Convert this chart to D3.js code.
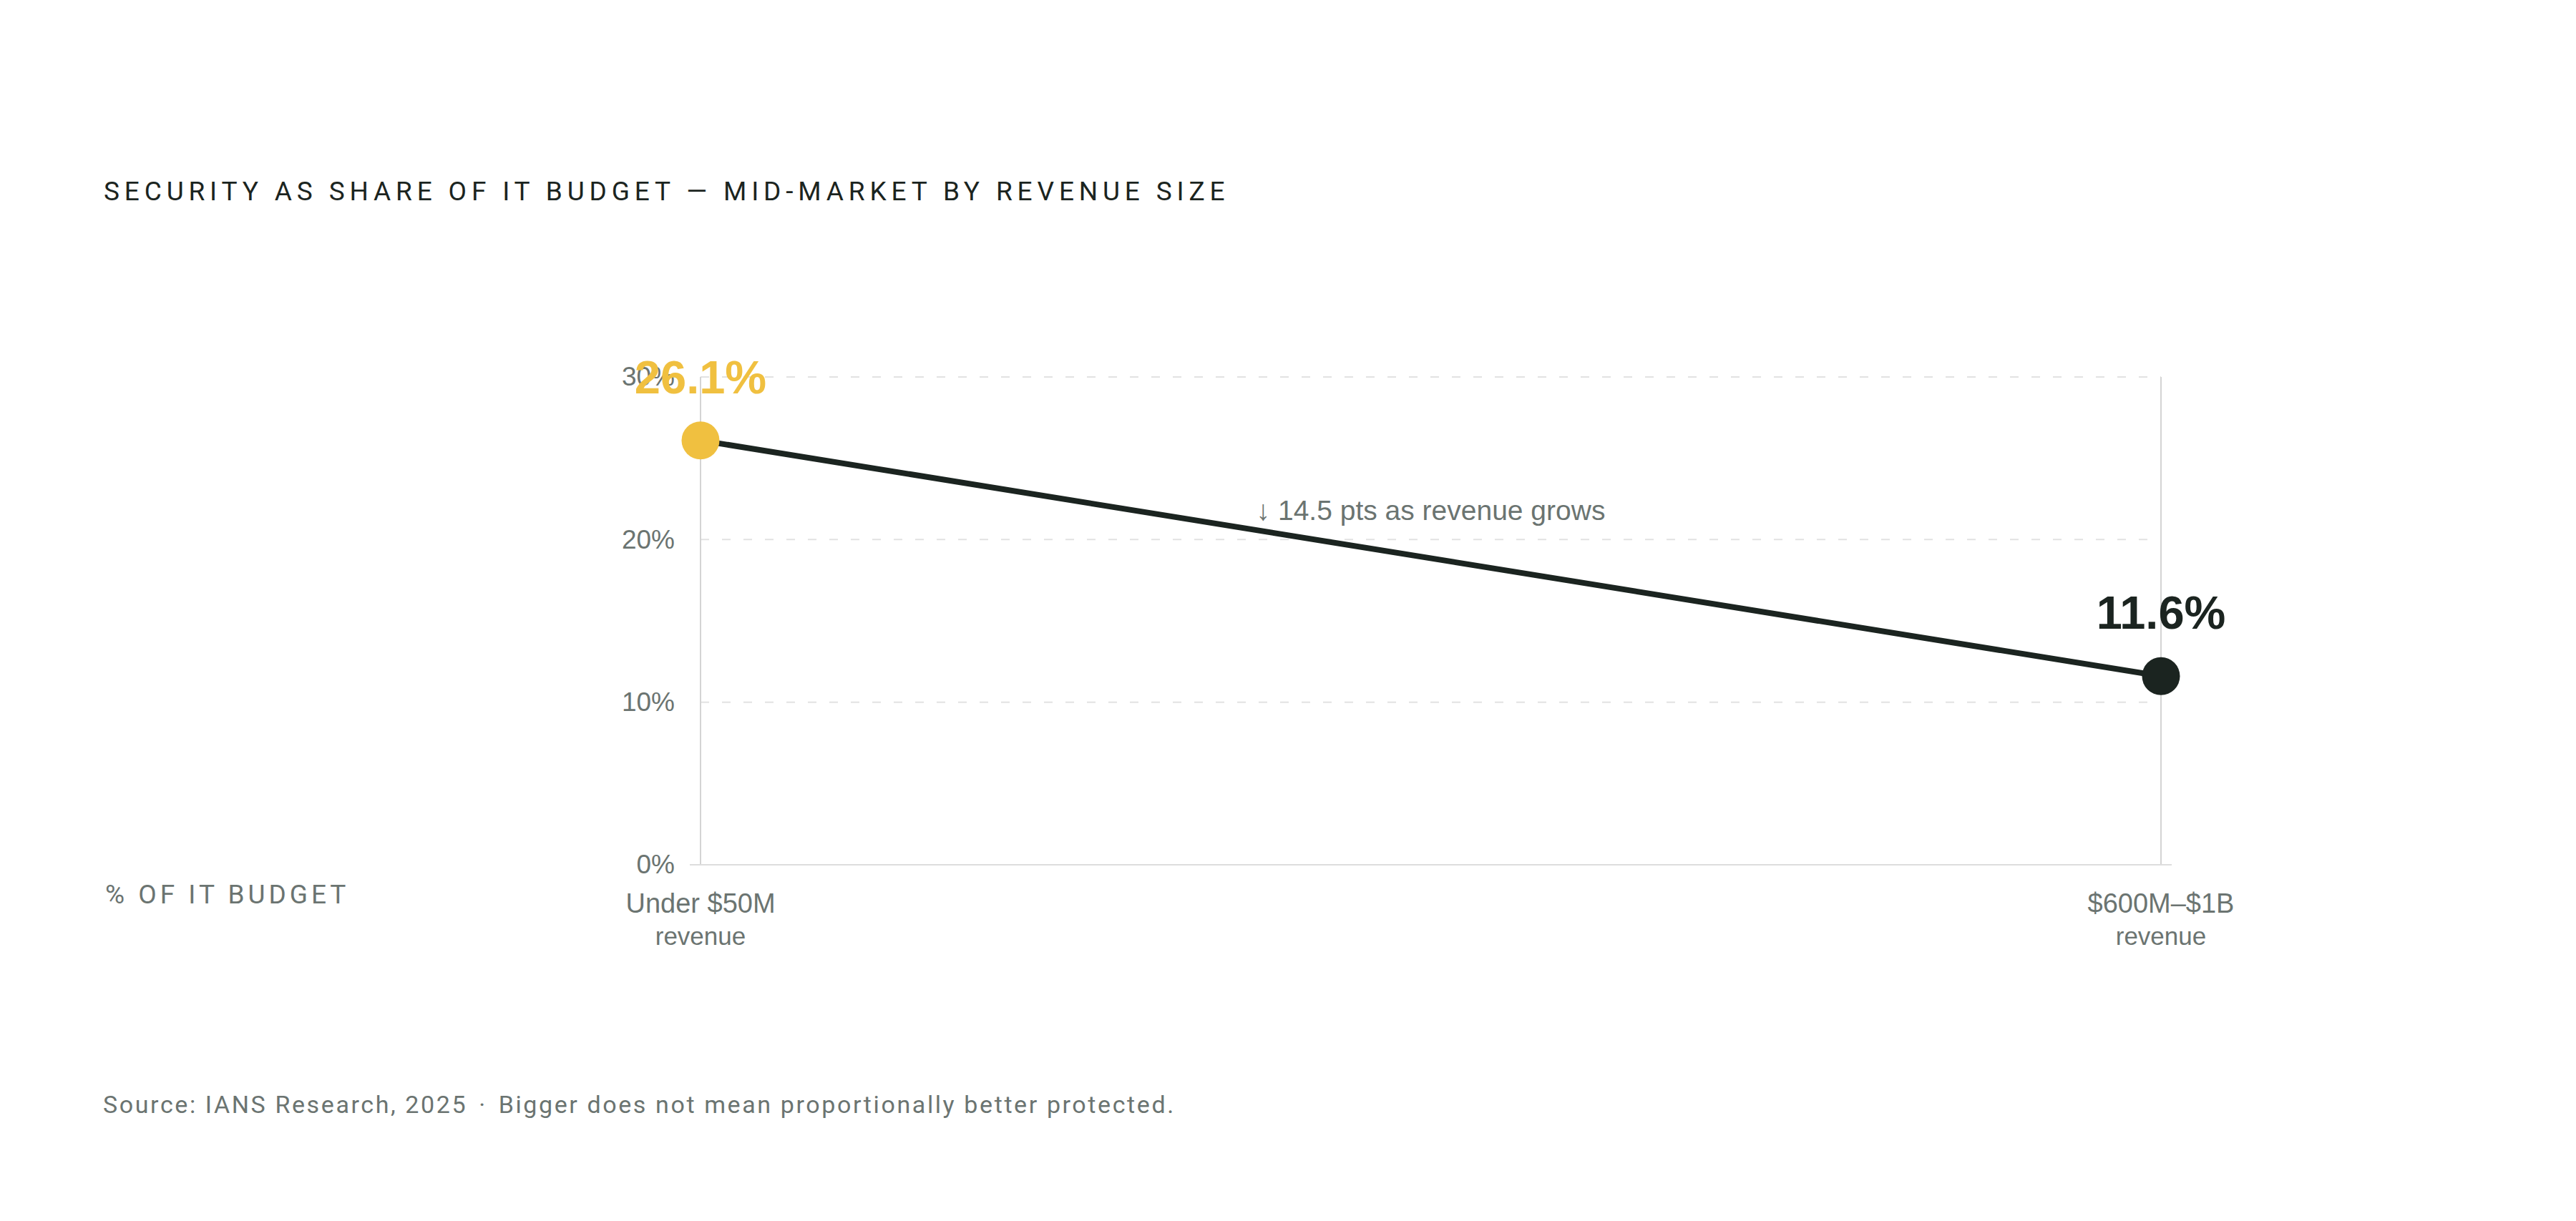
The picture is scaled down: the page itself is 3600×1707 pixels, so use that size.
<!DOCTYPE html>
<html>
<head>
<meta charset="utf-8">
<script src="https://cdn.jsdelivr.net/npm/d3@7"></script>
<style>
    html, body { margin: 0; padding: 0; background: #ffffff; }
    svg { display: block; }
</style>
</head>
<body>
<div id="chart"></div>
<script>
// data
const categories = ["Under $50M", "$600M–$1B"];
const categorySub = ["revenue", "revenue"];
const shares = [26.1, 11.6];
const yTicks = [0, 10, 20, 30];

const titleText = "SECURITY AS SHARE OF IT BUDGET — MID-MARKET BY REVENUE SIZE";
const yLabelText = "% OF IT BUDGET";
const sourceText = "Source: IANS Research, 2025";
const noteText = "Bigger does not mean proportionally better protected.";

const width = 3600;
const height = 1707;

const dark = "#1b2420";
const gold = "#f0c040";
const grey = "#6b7471";

const svg = d3.select("#chart")
    .append("svg")
    .attr("width", width)
    .attr("height", height)

svg.append("rect")
    .attr("width", width)
    .attr("height", height)
    .attr("fill", "#ffffff")

const xScale = d3.scalePoint()
    .domain(categories)
    .range([979, 3020]);

const yScale = d3.scaleLinear()
    .domain([0, 30])
    .range([1209, 527]);

// Title + side label + footer
svg.append("text")
    .text(titleText)
    .attr("x", 145)
    .attr("y", 280)
    .attr("font-family", "Roboto, sans-serif")
    .attr("font-size", 37)
    .attr("letter-spacing", 6.85)
    .attr("fill", dark)

svg.append("text")
    .text(yLabelText)
    .attr("x", 147)
    .attr("y", 1263)
    .attr("font-family", "Roboto, sans-serif")
    .attr("font-size", 37)
    .attr("letter-spacing", 5)
    .attr("fill", grey)

const footer = svg.append("text")
    .attr("x", 144)
    .attr("y", 1556)
    .attr("font-family", "Roboto, sans-serif")
    .attr("font-size", 34)
    .attr("letter-spacing", 2.6)
    .attr("fill", grey)
footer.append("tspan").text(sourceText)
footer.append("tspan").attr("dx", 16).text("·")
footer.append("tspan").attr("dx", 16).text(noteText)

// Dashed gridlines
svg.selectAll(".grid").data(yTicks.filter(d => d > 0)).enter().append("line")
    .attr("x1", xScale.range()[0])
    .attr("x2", xScale.range()[1])
    .attr("y1", d => yScale(d))
    .attr("y2", d => yScale(d))
    .attr("stroke", "#e2e2e2")
    .attr("stroke-width", 2)
    .attr("stroke-dasharray", "12,18")

// Vertical guides at each category
svg.selectAll(".guide").data(categories).enter().append("line")
    .attr("x1", d => xScale(d))
    .attr("x2", d => xScale(d))
    .attr("y1", yScale(30))
    .attr("y2", yScale(0))
    .attr("stroke", "#d4d4d4")
    .attr("stroke-width", 2)

// Baseline
svg.append("line")
    .attr("x1", xScale.range()[0] - 15)
    .attr("x2", xScale.range()[1] + 15)
    .attr("y1", yScale(0))
    .attr("y2", yScale(0))
    .attr("stroke", "#dddddd")
    .attr("stroke-width", 2)

// Y axis labels
const yAxis = svg.append("g")
    .attr("transform", `translate(${xScale.range()[0]},0)`)
    .call(d3.axisLeft(yScale).tickValues(yTicks).tickFormat(d => d + "%").tickSize(0).tickPadding(36))
yAxis.select(".domain").remove()
yAxis.selectAll("text")
    .attr("font-family", "'Liberation Sans', Arial, sans-serif")
    .attr("font-size", 37)
    .attr("fill", grey)

// X category labels (two lines)
const xLabels = svg.selectAll(".xlab").data(categories).enter().append("text")
    .attr("x", d => xScale(d))
    .attr("text-anchor", "middle")
    .attr("font-family", "'Liberation Sans', Arial, sans-serif")
    .attr("fill", grey)
xLabels.append("tspan")
    .attr("x", d => xScale(d))
    .attr("y", yScale(0) + 67)
    .attr("font-size", 38)
    .text(d => d)
xLabels.append("tspan")
    .attr("x", d => xScale(d))
    .attr("y", yScale(0) + 112)
    .attr("font-size", 35)
    .text((d, i) => categorySub[i])

// The slope line
const points = categories.map((c, i) => ({ cat: c, value: shares[i] }));

svg.append("path")
    .datum(points)
    .attr("d", d3.line().x(d => xScale(d.cat)).y(d => yScale(d.value)))
    .attr("fill", "none")
    .attr("stroke", dark)
    .attr("stroke-width", 8)

svg.selectAll(".dot").data(points).enter().append("circle")
    .attr("cx", d => xScale(d.cat))
    .attr("cy", d => yScale(d.value))
    .attr("r", 26.5)
    .attr("fill", (d, i) => i == 0 ? gold : dark)

// Big value labels
svg.selectAll(".val").data(points).enter().append("text")
    .text(d => d.value.toFixed(1) + "%")
    .attr("x", d => xScale(d.cat))
    .attr("y", d => yScale(d.value) - 66)
    .attr("text-anchor", "middle")
    .attr("font-family", "'Liberation Sans', Arial, sans-serif")
    .attr("font-weight", "bold")
    .attr("font-size", 65)
    .attr("fill", (d, i) => i == 0 ? gold : dark)

// Drop annotation at the middle of the line
const drop = (shares[0] - shares[1]).toFixed(1);
svg.append("text")
    .text("↓ " + drop + " pts as revenue grows")
    .attr("x", d3.mean(points, d => xScale(d.cat)))
    .attr("y", d3.mean(points, d => yScale(d.value)) - 53)
    .attr("text-anchor", "middle")
    .attr("font-family", "'Liberation Sans', Arial, sans-serif")
    .attr("font-size", 39)
    .attr("fill", grey)
</script>
</body>
</html>
